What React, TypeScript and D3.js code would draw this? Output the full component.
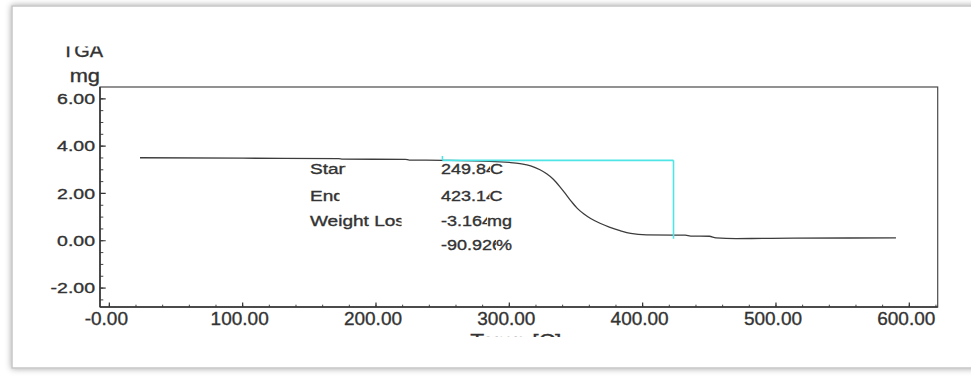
import React from "react";
import * as d3 from "d3";

// TGA trace: sample temperature (°C) and remaining mass (mg)
const temperature = [23, 100, 172, 175, 222, 225, 250, 285, 300, 308, 316, 323, 328, 333, 338, 343, 347, 351, 356, 361, 368, 375, 383, 391, 403, 423, 432, 436, 450, 455, 470, 490, 513, 590];
const massMg = [3.51, 3.49, 3.47, 3.45, 3.44, 3.41, 3.4, 3.36, 3.31, 3.26, 3.17, 3.0, 2.83, 2.6, 2.28, 1.92, 1.63, 1.37, 1.13, 0.94, 0.74, 0.58, 0.43, 0.31, 0.25, 0.24, 0.24, 0.2, 0.19, 0.12, 0.09, 0.1, 0.11, 0.12];

// Axis ticks and their printed labels
const xTicks = [0, 100, 200, 300, 400, 500, 600];
const xTickLabels = ["-0.00", "100.00", "200.00", "300.00", "400.00", "500.00", "600.00"];
const yTicks = [-2, 0, 2, 4, 6];
const yTickLabels = ["-2.00", "0.00", "2.00", "4.00", "6.00"];

// Step analysis readout
const annotationLabels = ["Start", "End", "Weight Loss", ""];
const annotationValues = ["249.84", "423.14", "-3.164", "-90.926"];
const annotationUnits = ["C", "C", "mg", "%"];
const stepTopMg = 3.4;
const stepBottomMg = 0.08;

const FONT = "'Liberation Sans', Arial, Helvetica, sans-serif";
const TEXT = "#333333";

export default function App() {
  const W = 971;
  const H = 376;
  const plot = { left: 100, right: 937.7, top: 87, bottom: 307 };

  const x = d3.scaleLinear().domain([-7, 621.3]).range([plot.left, plot.right]);
  const y = d3.scaleLinear().domain([-2.8, 6.5]).range([plot.bottom, plot.top]);

  const pts = temperature.map((t, i) => [t, massMg[i]] as [number, number]);
  const line = d3
    .line<[number, number]>()
    .x((d) => x(d[0]))
    .y((d) => y(d[1]))
    .curve(d3.curveMonotoneX);

  const xMinor = d3.range(0, 621, 20);
  const yMinor = d3.range(-2.5, 6.45, 0.5);

  const onset = parseFloat(annotationValues[0]);
  const endset = parseFloat(annotationValues[1]);

  // readout layout
  const labelX = 310;
  const valueX = 441;
  const rowY = [174, 201, 226, 250];
  const labelClipRight = [345.5, 339.5, 401.5, 0];
  const unitX = [490, 489.5, 487, 496];
  const labelScale = 1.27;
  const valueScale = 1.2;

  const ink = { stroke: TEXT, strokeWidth: 0.35 };

  return (
    <div style={{ position: "absolute", left: 0, top: 0 }}>
      <svg width={W} height={H} style={{ display: "block" }}>
        <defs>
          <filter id="frameShadow" x="-5%" y="-5%" width="110%" height="110%">
            <feDropShadow dx="0" dy="0" stdDeviation="3" floodColor="#000" floodOpacity="0.35" />
          </filter>
          <clipPath id="chartClip">
            <rect x={13} y={46.5} width={958} height={290.5} />
          </clipPath>
          {annotationLabels.map((_, i) => (
            <clipPath id={`labelClip${i}`} key={`lc${i}`}>
              <rect x={labelX - 2} y={rowY[i] - 20} width={Math.max(0, labelClipRight[i] - labelX + 2)} height={26} />
            </clipPath>
          ))}
          {annotationValues.map((_, i) => (
            <clipPath id={`valueClip${i}`} key={`vc${i}`}>
              <rect x={valueX - 2} y={rowY[i] - 20} width={unitX[i] - valueX + 2} height={26} />
            </clipPath>
          ))}
        </defs>

        <rect x={0} y={0} width={W} height={H} fill="#ffffff" />
        <rect x={12} y={6} width={1000} height={362} fill="#ffffff" stroke="#c6c6c6" strokeWidth={1.5} filter="url(#frameShadow)" />

        <g clipPath="url(#chartClip)" fontFamily={FONT} fill={TEXT}>
          {/* axis titles */}
          <text transform={`translate(103,57.3) scale(1.05,1)`} textAnchor="end" fontSize={19} {...ink}>
            TGA
          </text>
          <text transform={`translate(100,81.7) scale(1.15,1)`} textAnchor="end" fontSize={19} {...ink}>
            mg
          </text>
          <text transform={`translate(${(plot.left + plot.right) / 2 - 3},347) scale(1.2,1)`} textAnchor="middle" fontSize={19} {...ink}>
            Temp [C]
          </text>

          {/* minor ticks */}
          {xMinor.map((v) => (
            <line key={`xm${v}`} x1={x(v)} x2={x(v)} y1={plot.bottom} y2={plot.bottom - 2.3} stroke="#444" strokeWidth={1} />
          ))}
          {yMinor.map((v) => (
            <line key={`ym${v}`} x1={plot.left} x2={plot.left + 3.3} y1={y(v)} y2={y(v)} stroke="#444" strokeWidth={1} />
          ))}
          {/* major ticks + labels */}
          {xTicks.map((v, i) => (
            <g key={`xt${v}`}>
              <line x1={x(v)} x2={x(v)} y1={plot.bottom} y2={plot.bottom - 4.5} stroke="#333" strokeWidth={1.2} />
              <text x={x(v) - 3} y={325} textAnchor="middle" fontSize={19} {...ink}>
                {xTickLabels[i]}
              </text>
            </g>
          ))}
          {yTicks.map((v, i) => (
            <g key={`yt${v}`}>
              <line x1={plot.left} x2={plot.left + 5.7} y1={y(v)} y2={y(v)} stroke="#333" strokeWidth={1.2} />
              <text transform={`translate(95,${y(v) + 5.3}) scale(1.3,1)`} textAnchor="end" fontSize={15} {...ink}>
                {yTickLabels[i]}
              </text>
            </g>
          ))}

          {/* plot frame */}
          <rect x={plot.left} y={plot.top} width={plot.right - plot.left} height={plot.bottom - plot.top} fill="none" stroke="#4a4a4a" strokeWidth={1.2} />
          <line x1={plot.left} x2={plot.left} y1={plot.top} y2={plot.bottom} stroke="#333" strokeWidth={1.5} />
          <line x1={plot.left} x2={plot.right} y1={plot.bottom} y2={plot.bottom} stroke="#333" strokeWidth={1.5} />

          {/* mass curve */}
          <path d={line(pts) ?? ""} fill="none" stroke="#3c3c3c" strokeWidth={1.3} />

          {/* step markers */}
          <g stroke="#4fe4e6" strokeWidth={1.6} fill="none">
            <line x1={x(onset)} x2={x(endset)} y1={y(stepTopMg)} y2={y(stepTopMg)} />
            <line x1={x(endset)} x2={x(endset)} y1={y(stepTopMg)} y2={y(stepBottomMg)} />
            <line x1={x(onset)} x2={x(onset)} y1={y(stepTopMg)} y2={y(stepTopMg + 0.18)} />
          </g>

          {/* readout */}
          {annotationLabels.map((lab, i) =>
            lab ? (
              <g key={`al${i}`} clipPath={`url(#labelClip${i})`}>
                <text transform={`translate(${labelX},${rowY[i]}) scale(${labelScale},1)`} fontSize={15} {...ink}>
                  {lab}
                </text>
              </g>
            ) : null
          )}
          {annotationValues.map((val, i) => (
            <g key={`av${i}`}>
              <g clipPath={`url(#valueClip${i})`}>
                <text transform={`translate(${valueX},${rowY[i]}) scale(${valueScale},1)`} fontSize={15} {...ink}>
                  {val}
                </text>
              </g>
              <text transform={`translate(${unitX[i]},${rowY[i]}) scale(${valueScale},1)`} fontSize={15} {...ink}>
                {annotationUnits[i]}
              </text>
            </g>
          ))}
        </g>
      </svg>
    </div>
  );
}
